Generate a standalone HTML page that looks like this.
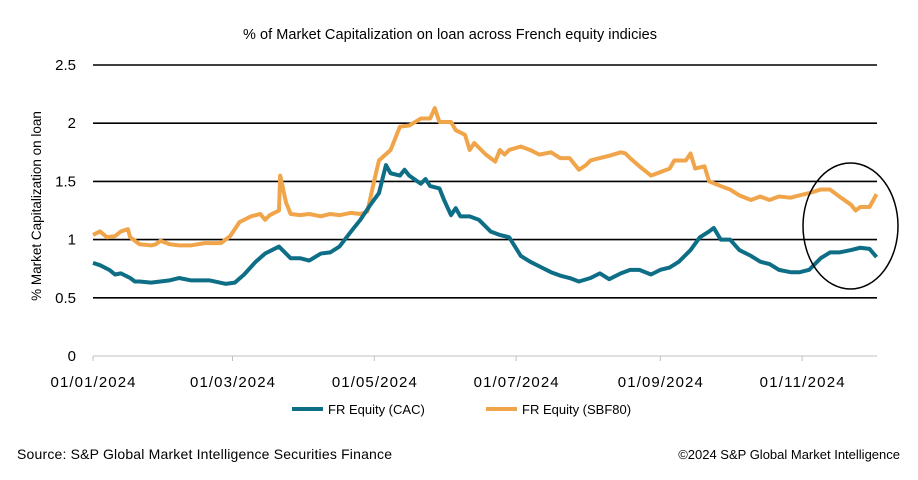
<!DOCTYPE html>
<html><head><meta charset="utf-8"><style>
body{margin:0;background:#fff;font-family:"Liberation Sans",sans-serif}
svg text{font-family:"Liberation Sans",sans-serif;fill:#000}
</style></head><body>
<svg id="c" width="918" height="475" xmlns="http://www.w3.org/2000/svg">
<text x="450" y="39" font-size="14.5" text-anchor="middle" textLength="414">% of Market Capitalization on loan across French equity indicies</text>
<text transform="translate(41,206) rotate(-90)" font-size="13.5" text-anchor="middle">% Market Capitalization on loan</text>
<g id="grid"></g><g id="series"></g>
<ellipse cx="850.5" cy="226" rx="47.5" ry="63" fill="none" stroke="#000" stroke-width="1.5"/>
<line x1="292" y1="409" x2="323" y2="409" stroke="#0e6e86" stroke-width="4"/>
<text x="328" y="414" font-size="13">FR Equity (CAC)</text>
<line x1="486" y1="409" x2="517" y2="409" stroke="#f0a54a" stroke-width="4"/>
<text x="522" y="414" font-size="13">FR Equity (SBF80)</text>
<text x="17" y="459" font-size="14" textLength="375">Source: S&amp;P Global Market Intelligence Securities Finance</text>
<text x="900" y="459" font-size="13" text-anchor="end">©2024 S&amp;P Global Market Intelligence</text>
</svg>
<script>
const yTicks=[0,0.5,1,1.5,2,2.5];
const yTickLabels=["0","0.5","1","1.5","2","2.5"];
const xTickDays=[0,60,121,182,244,305];
const xTickLabels=["01/01/2024","01/03/2024","01/05/2024","01/07/2024","01/09/2024","01/11/2024"];
const sbfDays=[0,3,6,9.5,12,15,16,20,25,27,29,33,37,42,48,55,59,63,68,72,74,76,80,80.5,83,85,89,93,98,102,106,111,115,118,121,123,128,132,136,141,145,147,149,154,156,160,162,164,169,173,175,177,179,184,188,192,197,201,205,209,212,214,218,222,227,229,231,235,240,244,248,250,255,257,259,263,265,270,274,278,283,287,291,295,300,304,308,313,317,321,326,328,330,334,337];
const sbfVals=[1.04,1.07,1.02,1.03,1.07,1.09,1.02,0.96,0.95,0.96,0.99,0.96,0.95,0.95,0.97,0.97,1.03,1.15,1.20,1.22,1.17,1.21,1.25,1.55,1.32,1.22,1.21,1.22,1.20,1.22,1.21,1.23,1.22,1.24,1.51,1.68,1.77,1.97,1.98,2.04,2.04,2.13,2.01,2.01,1.94,1.90,1.77,1.83,1.73,1.67,1.77,1.73,1.77,1.80,1.77,1.73,1.75,1.70,1.70,1.60,1.64,1.68,1.70,1.72,1.75,1.74,1.70,1.63,1.55,1.58,1.61,1.68,1.68,1.74,1.61,1.63,1.50,1.46,1.43,1.38,1.34,1.37,1.34,1.37,1.36,1.38,1.40,1.43,1.43,1.37,1.30,1.25,1.28,1.28,1.39];
const cacDays=[0,3,7,9.5,12,14,16,18,20,25,29,33,37,42,46,50,57,61,65,70,74,80,85,89,93,98,102,106,111,115,119,123,126,128,132,134,136,141,143,145,149,151,154,156,158,162,166,171,175,179,184,188,192,197,201,205,209,214,218,222,227,231,235,240,244,248,252,257,261,265,267,270,274,278,283,287,291,295,300,304,308,313,317,321,326,330,334,337];
const cacVals=[0.80,0.78,0.74,0.70,0.71,0.69,0.67,0.64,0.64,0.63,0.64,0.65,0.67,0.65,0.65,0.65,0.62,0.63,0.70,0.81,0.88,0.94,0.84,0.84,0.82,0.88,0.89,0.94,1.07,1.17,1.29,1.40,1.64,1.57,1.55,1.60,1.55,1.48,1.52,1.46,1.44,1.34,1.21,1.27,1.20,1.20,1.17,1.07,1.04,1.02,0.86,0.81,0.77,0.72,0.69,0.67,0.64,0.67,0.71,0.66,0.71,0.74,0.74,0.70,0.74,0.76,0.81,0.91,1.02,1.07,1.10,1.00,1.00,0.91,0.86,0.81,0.79,0.74,0.72,0.72,0.74,0.84,0.89,0.89,0.91,0.93,0.92,0.85];
const NS="http://www.w3.org/2000/svg";
const X=d=>93+d*2.325, Y=v=>356-v*116.4;
function mk(t,a,p){const e=document.createElementNS(NS,t);for(const k in a)e.setAttribute(k,a[k]);p.appendChild(e);return e;}
const g=document.getElementById('grid'), s=document.getElementById('series');
yTicks.forEach((v,i)=>{
  const l=mk('line',{x1:93,x2:877,y1:Y(v),y2:Y(v),stroke:v===0?'#bfbfbf':'#000','stroke-width':v===0?1:1.6},g);
  
  
  const t=mk('text',{x:76,y:Y(v)+5,'font-size':15,'text-anchor':'end'},g);t.textContent=yTickLabels[i];
  
  
});
xTickDays.forEach((d,i)=>{
  const l=mk('line',{x1:X(d),x2:X(d),y1:356,y2:361,stroke:'#bfbfbf'},g);
  
  
  const t=mk('text',{x:X(d),y:387,'font-size':15,'text-anchor':'middle',textLength:85},g);t.textContent=xTickLabels[i];
  
  
});
function line(days,vals,col,name){
  const p=mk('polyline',{points:days.map((d,i)=>X(d)+','+Y(vals[i])).join(' '),fill:'none',stroke:col,'stroke-width':4,'stroke-linejoin':'round'},s);
  
  
}
line(sbfDays,sbfVals,'#f0a54a','series-sbf80-line');
line(cacDays,cacVals,'#0e6e86','series-cac-line');
</script>
</body></html>
